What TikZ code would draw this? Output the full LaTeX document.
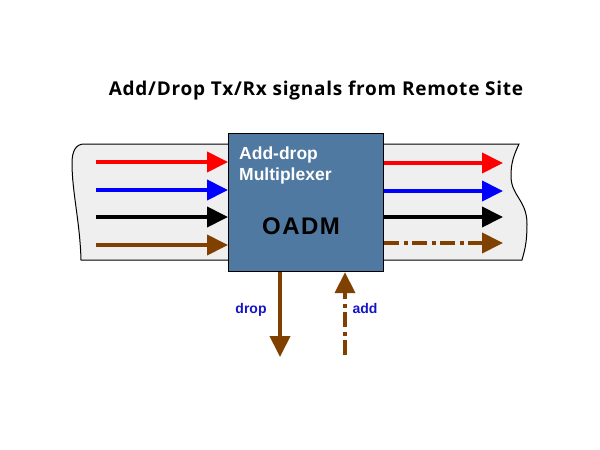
\documentclass[tikz,border=0pt]{standalone}
\usepackage{fontspec}
\setmainfont{Liberation Sans}
\newfontfamily\titlefont{Open Sans}
\usetikzlibrary{arrows.meta}
\definecolor{boxblue}{RGB}{79,121,160}
\definecolor{bandgray}{RGB}{239,239,239}
\definecolor{sigbrown}{RGB}{128,64,0}
\definecolor{labblue}{RGB}{20,20,200}
\tikzset{
  sig/.style={line width=4pt, -{Triangle[length=21pt,width=20pt]}},
  dashdot/.style={dash pattern=on 15pt off 4.5pt on 4pt off 4.5pt},
  lab/.style={font=\fontsize{14}{16}\selectfont\bfseries, text=labblue, inner sep=0pt, anchor=base},
  boxtext/.style={font=\fontsize{17.5}{20}\selectfont\bfseries, text=white, anchor=base west, inner sep=0pt},
}
\begin{document}
\begin{tikzpicture}[x=1pt,y=-1pt]
\useasboundingbox (0,0) rectangle (600,450);
\fill[white] (0,0) rectangle (600,450);
% band
\draw[fill=bandgray, line width=1pt]
  (84,144) -- (519,144)
  .. controls (514,155) and (511,162) .. (511,176)
  .. controls (511,196) and (527,200) .. (527,224)
  .. controls (527,245) and (524,252) .. (522,260)
  -- (81,260)
  .. controls (80,222) and (72,192) .. (72,163)
  .. controls (72,151) and (76,144) .. (84,144) -- cycle;
% title
\node[font=\titlefont\fontsize{19}{22}\selectfont\bfseries\addfontfeature{LetterSpace=4}, anchor=base, inner sep=0pt] (title) at (316,95) {Add/Drop Tx/Rx signals from Remote Site};
% box
\node[draw, line width=1.2pt, fill=boxblue, minimum width=155pt, minimum height=138pt, inner sep=0pt, anchor=north west] (oadm) at (228,133) {};
\node[boxtext] (t1) at (239,159) {Add-drop};
\node[boxtext] (t2) at (239,180) {Multiplexer};
\node[font=\fontsize{24}{28}\selectfont\bfseries\addfontfeature{LetterSpace=6}, anchor=base, inner sep=0pt] (t3) at (301,234) {OADM};
% left arrows
\coordinate (lr) at (96,162); \coordinate (lb) at (96,190); \coordinate (lk) at (96,217); \coordinate (ln) at (96,245);
\draw[sig, red] (lr) -- (lr -| oadm.west);
\draw[sig, blue] (lb) -- (lb -| oadm.west);
\draw[sig, black] (lk) -- (lk -| oadm.west);
\draw[sig, sigbrown] (ln) -- (ln -| oadm.west);
% right arrows
\coordinate (rr) at (503,163); \coordinate (rb) at (503,191); \coordinate (rk) at (503,217); \coordinate (rn) at (503,243);
\draw[sig, red] (rr -| oadm.east) -- (rr);
\draw[sig, blue] (rb -| oadm.east) -- (rb);
\draw[sig, black] (rk -| oadm.east) -- (rk);
\draw[sig, sigbrown, dashdot] (rn -| oadm.east) -- (rn);
% drop / add
\coordinate (dropend) at (280,357);
\coordinate (addstart) at (345,355);
\draw[sig, sigbrown] (dropend |- oadm.south) -- (dropend);
\draw[sig, sigbrown, dashdot] (addstart) -- (addstart |- oadm.south);
\node[lab] (droplab) at (251,313) {drop};
\node[lab] (addlab) at (365,313) {add};
\end{tikzpicture}
\end{document}
